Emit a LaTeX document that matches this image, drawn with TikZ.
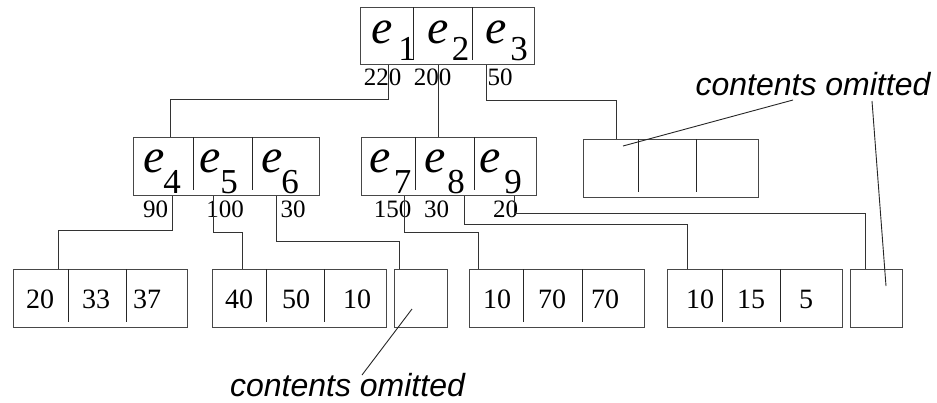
\documentclass[tikz,border=0pt]{standalone}
\usepackage{fontspec}
\setmainfont{Liberation Serif}
\newfontfamily\annfont{Liberation Sans}
\begin{document}
\begin{tikzpicture}[x=1pt,y=-1pt,
  box/.style={draw=black!72,line width=1pt,rectangle,inner sep=0pt,minimum height=58pt},
  divl/.style={draw=black!85,line width=1pt},
  conn/.style={draw=black!80,line width=1pt},
  ptr/.style={draw=black!85,line width=0.9pt},
  elab/.style={inner sep=0pt,anchor=base,font=\fontsize{48}{48}\selectfont\itshape},
  esub/.style={inner sep=0pt,anchor=base,font=\fontsize{35}{35}\selectfont},
  wlab/.style={inner sep=0pt,anchor=base,font=\fontsize{25}{25}\selectfont},
  vlab/.style={inner sep=0pt,anchor=base,font=\fontsize{28}{28}\selectfont},
  ann/.style={inner sep=0pt,anchor=base,font=\annfont\itshape\fontsize{32}{32}\selectfont}]
\useasboundingbox[fill=white] (0,0) rectangle (937,402);

% boxes
\node[box,minimum width=174pt,minimum height=57pt] (root) at (447,35.5) {};
\node[box,minimum width=186pt] (A2) at (226,166) {};
\node[box,minimum width=175pt] (B2) at (448.5,166) {};
\node[box,minimum width=175pt] (C2) at (670.5,168) {};
\node[box,minimum width=174pt] (L1) at (100,298) {};
\node[box,minimum width=174pt] (L2) at (299,298) {};
\node[box,minimum width=53pt] (L3) at (420.5,298) {};
\node[box,minimum width=175pt] (L4) at (556.5,298) {};
\node[box,minimum width=175pt] (L5) at (754.5,298) {};
\node[box,minimum width=52pt] (L6) at (876,298) {};

% dividers
\foreach \x in {413,472} \draw[divl] (\x,7) -- (\x,60);
\foreach \x in {193,252} \draw[divl] (\x,137) -- (\x,190);
\foreach \x in {415,474} \draw[divl] (\x,137) -- (\x,190);
\foreach \x in {638,696} \draw[divl] (\x,139) -- (\x,192);
\foreach \x in {68,126,266,324,523,582,722,780} \draw[divl] (\x,269) -- (\x,322);

% e labels
\node[elab] (e1) at (382.5,43) {e};  \node[esub] (s1) at (407,60) {1};
\node[elab] (e2) at (438.5,43) {e};  \node[esub] (s2) at (460.5,60) {2};
\node[elab] (e3) at (496,43) {e};    \node[esub] (s3) at (519,60) {3};
\node[elab] (e4) at (154,172) {e};   \node[esub] (s4) at (172,193) {4};
\node[elab] (e5) at (210,172) {e};   \node[esub] (s5) at (229,193) {5};
\node[elab] (e6) at (272,172) {e};   \node[esub] (s6) at (290,193) {6};
\node[elab] (e7) at (380,172) {e};   \node[esub] (s7) at (402.5,193) {7};
\node[elab] (e8) at (435,172) {e};   \node[esub] (s8) at (456,193) {8};
\node[elab] (e9) at (490.5,172) {e}; \node[esub] (s9) at (513,193) {9};

% weights
\node[wlab] (w1) at (382.5,85) {220};
\node[wlab] (w2) at (432.5,85) {200};
\node[wlab] (w3) at (500,85) {50};
\node[wlab] (w4) at (155.5,217) {90};
\node[wlab] (w5) at (225,217) {100};
\node[wlab] (w6) at (293,217) {30};
\node[wlab] (w7) at (392.5,217) {150};
\node[wlab] (w8) at (436.5,217) {30};
\node[wlab] (w9) at (505.5,217) {20};

% leaf values
\node[vlab] (v11) at (40,308) {20};
\node[vlab] (v12) at (96,308) {33};
\node[vlab] (v13) at (147,308) {37};
\node[vlab] (v21) at (239,308) {40};
\node[vlab] (v22) at (296,308) {50};
\node[vlab] (v23) at (357,308) {10};
\node[vlab] (v41) at (497,308) {10};
\node[vlab] (v42) at (552,308) {70};
\node[vlab] (v43) at (605,308) {70};
\node[vlab] (v51) at (700,308) {10};
\node[vlab] (v52) at (751,308) {15};
\node[vlab] (v53) at (806,308) {5};

% connectors
\draw[conn] (388,0 |- root.south) |- (170,99) -- (170,0 |- A2.north);
\draw[conn] (438,0 |- root.south) -- (438,0 |- B2.north);
\draw[conn] (486,0 |- root.south) |- (616,100) -- (616,0 |- C2.north);
\draw[conn] (172,0 |- A2.south) |- (58,230) -- (58,0 |- L1.north);
\draw[conn] (213,0 |- A2.south) |- (242,232) -- (242,0 |- L2.north);
\draw[conn] (276,0 |- A2.south) |- (399,241) -- (399,0 |- L3.north);
\draw[conn] (404,0 |- B2.south) |- (478,232) -- (478,0 |- L4.north);
\draw[conn] (464,0 |- B2.south) |- (687,224) -- (687,0 |- L5.north);
\draw[conn] (514,0 |- B2.south) |- (865,213) -- (865,0 |- L6.north);

% annotations
\node[ann] (ct) at (813,95) {contents omitted};
\node[ann] (cb) at (347.5,396) {contents omitted};
\coordinate (p1) at (793,100);
\coordinate (p1e) at (623,146);
\coordinate (p2) at (872,101);
\coordinate (p2e) at (886,286);
\coordinate (p3) at (362,375);
\coordinate (p3e) at (412,309);
\draw[ptr] (p1) -- (p1e);
\draw[ptr] (p2) -- (p2e);
\draw[ptr] (p3) -- (p3e);
\end{tikzpicture}
\end{document}
